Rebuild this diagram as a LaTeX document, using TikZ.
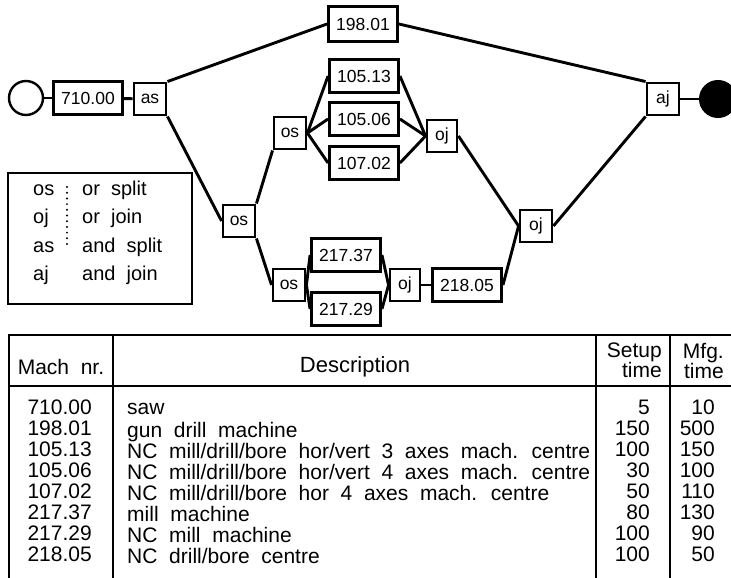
\documentclass[tikz,border=0pt]{standalone}
\usepackage{fontspec}
\setmainfont{Liberation Sans}[WordSpace=2]
\usetikzlibrary{positioning}

\begin{document}
\begin{tikzpicture}[
    x=1pt, y=-1pt,
    mnode/.style={rectangle, draw, line width=2.9pt, minimum width=69pt, minimum height=33pt, inner sep=0pt, font=\fontsize{17.5}{17.5}\selectfont},
    gnode/.style={mnode, minimum width=32pt, minimum height=32pt},
    lnk/.style={line width=2.9pt},
    legtxt/.style={anchor=base west, inner sep=0pt, font=\fontsize{20}{20}\selectfont},
    tbl/.style={line width=1.8pt},
    cell/.style={inner sep=0pt, font=\fontsize{21}{21}\selectfont}
]
\useasboundingbox (0,0) rectangle (731,578);

% routing network
\node[circle, draw, line width=2.4pt, minimum size=34pt] (start) at (26,98) {};
\node[mnode] (m71000) at (88,98) {710.00};
\node[gnode] (as) at (150,99) {as};
\node[mnode, minimum height=35pt] (m19801) at (363,24) {198.01};
\node[gnode] (osM) at (239,221) {os};
\node[gnode] (osA) at (290,133) {os};
\node[mnode] (m10513) at (364,76) {105.13};
\node[mnode] (m10506) at (364,119) {105.06};
\node[mnode] (m10702) at (364,163) {107.02};
\node[gnode, minimum width=30pt] (ojA) at (442,136) {oj};
\node[gnode] (osB) at (289,285) {os};
\node[mnode] (m21737) at (346,255) {217.37};
\node[mnode] (m21729) at (346,309) {217.29};
\node[gnode, minimum width=30pt] (ojB) at (405,285) {oj};
\node[mnode] (m21805) at (467,285) {218.05};
\node[gnode] (ojM) at (536,226) {oj};
\node[gnode] (aj) at (663,99) {aj};
\node[circle, draw, fill=black, line width=1pt, minimum size=37pt] (stop) at (718,99) {};

\draw[lnk] (start) -- (m71000);
\draw[lnk] (m71000) -- (as);
\draw[lnk] (as.north east) -- (m19801.west);
\draw[lnk] (as.south east) -- (osM.west);
\draw[lnk] (osM.north east) -- (osA.south west);
\draw[lnk] (osM.south east) -- (osB.west);
\draw[lnk] (osA.east) -- (m10513.west);
\draw[lnk] (osA.east) -- (m10506.west);
\draw[lnk] (osA.east) -- (m10702.west);
\draw[lnk] (m10513.east) -- (ojA.west);
\draw[lnk] (m10506.east) -- (ojA.west);
\draw[lnk] (m10702.east) -- (ojA.west);
\draw[lnk] (osB.east) -- (m21737.west);
\draw[lnk] (osB.east) -- (m21729.west);
\draw[lnk] (m21737.east) -- (ojB.west);
\draw[lnk] (m21729.east) -- (ojB.west);
\draw[lnk] (ojB) -- (m21805);
\draw[lnk] (m21805.east) -- (ojM.west);
\draw[lnk] (ojA.east) -- (ojM.west);
\draw[lnk] (ojM.east) -- (aj.south west);
\draw[lnk] (m19801.east) -- (aj.north west);
\draw[lnk] (aj) -- (stop);

% legend
\draw[line width=2.6pt] (8,173) rectangle (192,304);
\node[legtxt] (kos) at (33,195) {os};
\node[legtxt] (koj) at (33,223) {oj};
\node[legtxt] (kas) at (33,252) {as};
\node[legtxt] (kaj) at (33,280) {aj};
\node[legtxt] (tos) at (82,195) {or split};
\node[legtxt] (toj) at (82,223) {or join};
\node[legtxt] (tas) at (82,252) {and split};
\node[legtxt] (taj) at (82,280) {and join};
\draw[line width=2.2pt, line cap=round, dash pattern=on 0pt off 5.7pt] (67,187) -- (67,245);

% machine table
\draw[tbl] (9,578) |- (731,335);
\draw[tbl] (9,386) -- (731,386);
\draw[tbl] (113,335) -- (113,578);
\draw[tbl] (596,335) -- (596,578);
\draw[tbl] (670,335) -- (670,578);

\node[cell, anchor=base] (hnr) at (61,374) {Mach nr.};
\node[cell, anchor=base, font=\fontsize{22}{22}\selectfont] (hdesc) at (355,372) {Description};
\node[cell, anchor=north east, align=right] (hsetup) at (662,343) {Setup\\[-1pt]time};
\node[cell, anchor=north east, align=right] (hmfg) at (724,343) {Mfg.\\[-1pt]time};

\node[cell, anchor=north east, align=right] (nrcol) at (92,400)
  {\strut 710.00\\198.01\\105.13\\105.06\\107.02\\217.37\\217.29\\218.05};
\node[cell, anchor=north west, align=left] (desccol) at (127,400)
  {\strut saw\\gun drill machine\\NC mill/drill/bore hor/vert 3 axes mach. centre\\NC mill/drill/bore hor/vert 4 axes mach. centre\\NC mill/drill/bore hor 4 axes mach. centre\\mill machine\\NC mill machine\\NC drill/bore centre};
\node[cell, anchor=north east, align=right] (setupcol) at (650,400)
  {\strut 5\\150\\100\\30\\50\\80\\100\\100};
\node[cell, anchor=north east, align=right] (mfgcol) at (715,400)
  {\strut 10\\500\\150\\100\\110\\130\\90\\50};

\end{tikzpicture}
\end{document}
